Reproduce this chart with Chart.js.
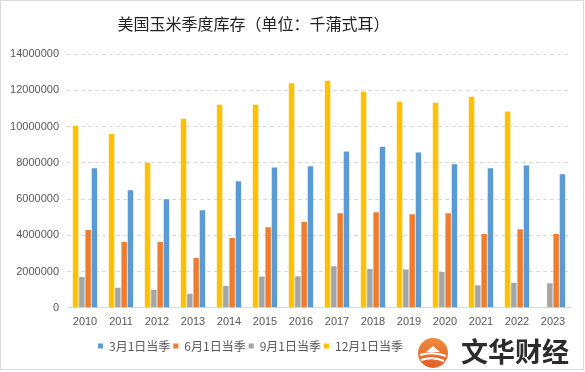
<!DOCTYPE html>
<html><head><meta charset="utf-8">
<script src="https://cdn.jsdelivr.net/npm/chart.js@4/dist/chart.umd.min.js"></script>
<style>html,body{margin:0;padding:0;background:#fff}</style>
</head><body>
<canvas id="c" width="585" height="372" style="width:585px;height:372px;display:block"></canvas>
<script>
const categories = ['2010','2011','2012','2013','2014','2015','2016','2017','2018','2019','2020','2021','2022','2023'];
const seriesNames = ['3月1日当季','6月1日当季','9月1日当季','12月1日当季'];
const mar1 = [7700000, 6490000, 5990000, 5390000, 6980000, 7750000, 7810000, 8630000, 8890000, 8580000, 7920000, 7700000, 7860000, 7370000];
const jun1 = [4290000, 3630000, 3630000, 2750000, 3850000, 4450000, 4730000, 5220000, 5280000, 5170000, 5220000, 4070000, 4340000, 4070000];
const sep1 = [1700000, 1100000, 990000, 770000, 1210000, 1730000, 1740000, 2290000, 2140000, 2110000, 1980000, 1240000, 1380000, 1350000];
const dec1 = [10050000, 9600000, 8010000, 10440000, 11210000, 11210000, 12390000, 12530000, 11930000, 11380000, 11320000, 11650000, 10830000, null];
const yTicks = [0, 2000000, 4000000, 6000000, 8000000, 10000000, 12000000, 14000000];
const titleText = '美国玉米季度库存（单位：千蒲式耳）';
const logoText = '文华财经';

const FONT = "'Liberation Sans', 'Noto Sans CJK SC', sans-serif";
const CJK = "'Noto Sans CJK SC', 'Liberation Sans', sans-serif";

const shiftPlugin = {
  id: 'shiftBlocks',
  afterLayout(chart) {
    const t = chart.titleBlock;
    if (t) { t.left -= 32; t.right -= 32; }
    const l = chart.legend;
    if (l) { l.left -= 35; l.right -= 35; }
  }
};

const decorPlugin = {
  id: 'decor',
  beforeDraw(chart) {
    const ctx = chart.ctx;
    ctx.save();
    ctx.fillStyle = '#fff';
    ctx.fillRect(0, 0, chart.width, chart.height);
    ctx.restore();
  },
  afterDraw(chart) {
    const ctx = chart.ctx;
    ctx.save();
    ctx.strokeStyle = '#d9d9d9';
    ctx.lineWidth = 1;
    ctx.strokeRect(0.5, 0.5, 583, 369);
    const cx = 433, cy = 353, r = 15;
    const g = ctx.createLinearGradient(cx, cy - r, cx, cy + r);
    g.addColorStop(0, '#F08A3C');
    g.addColorStop(1, '#E0602A');
    ctx.fillStyle = g;
    ctx.beginPath(); ctx.arc(cx, cy, r, 0, Math.PI * 2); ctx.fill();
    ctx.fillStyle = '#fff';
    ctx.beginPath();
    ctx.moveTo(cx - 7, cy - 1); ctx.lineTo(cx, cy - 7); ctx.lineTo(cx + 7, cy - 1); ctx.closePath(); ctx.fill();
    ctx.strokeStyle = '#fff'; ctx.lineWidth = 2;
    ctx.beginPath(); ctx.moveTo(cx - 13, cy + 2); ctx.quadraticCurveTo(cx, cy - 2, cx + 13, cy + 3); ctx.stroke();
    ctx.beginPath(); ctx.moveTo(cx - 12, cy + 7); ctx.quadraticCurveTo(cx, cy + 3, cx + 11, cy + 8); ctx.stroke();
    ctx.fillStyle = '#2b2b2b';
    ctx.font = "bold 27px " + CJK;
    ctx.textBaseline = 'middle';
    ctx.textAlign = 'left';
    ctx.fillText(logoText, 461, 352);
    ctx.restore();
  }
};

const colors = { mar: '#5B9BD5', jun: '#ED7D31', sep: '#A5A5A5', dec: '#FFC000' };

new Chart(document.getElementById('c'), {
  type: 'bar',
  data: {
    labels: categories,
    datasets: [
      { label: seriesNames[3], data: dec1, backgroundColor: colors.dec },
      { label: seriesNames[2], data: sep1, backgroundColor: colors.sep },
      { label: seriesNames[1], data: jun1, backgroundColor: colors.jun },
      { label: seriesNames[0], data: mar1, backgroundColor: colors.mar }
    ]
  },
  options: {
    responsive: false,
    devicePixelRatio: 1,
    animation: false,
    datasets: { bar: { categoryPercentage: 0.7, barPercentage: 0.87 } },
    layout: { padding: { left: 0, right: 14, top: 0, bottom: 10 } },
    plugins: {
      title: {
        display: true, text: titleText, color: '#222',
        font: { family: CJK, size: 16, weight: 'normal' },
        padding: { top: 14, bottom: 21 }
      },
      legend: {
        position: 'bottom', reverse: true,
        labels: {
          boxWidth: 5, boxHeight: 5, padding: 3, color: '#595959',
          font: { family: CJK, size: 12 }
        }
      },
      tooltip: { enabled: false }
    },
    scales: {
      x: {
        grid: { display: false, drawTicks: false },
        border: { display: true, color: '#d9d9d9' },
        ticks: { color: '#595959', font: { family: FONT, size: 11 }, padding: 8, maxRotation: 0 }
      },
      y: {
        min: 0, max: 14000000,
        afterBuildTicks(scale) { scale.ticks = yTicks.map(v => ({ value: v })); },
        afterFit(scale) { scale.width = 67; },
        grid: { color: '#d9d9d9', drawTicks: false, tickLength: 0 },
        border: { display: false, dash: [4, 3] },
        ticks: { color: '#595959', font: { family: FONT, size: 11 }, padding: 8, callback: v => String(v) }
      }
    }
  },
  plugins: [shiftPlugin, decorPlugin]
});
</script>
</body></html>
